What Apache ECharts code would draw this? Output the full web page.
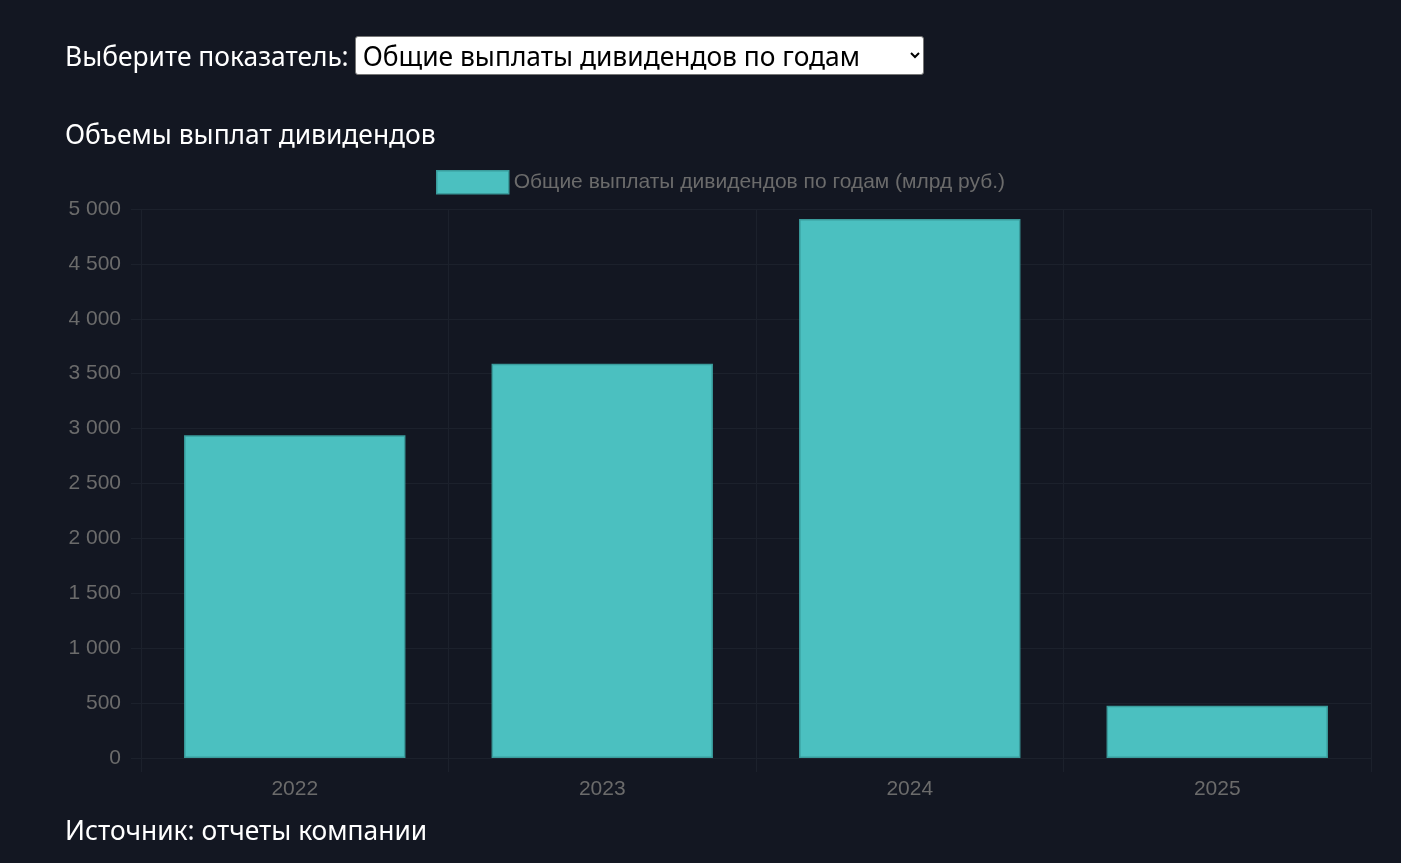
<!DOCTYPE html>
<html>
<head>
<meta charset="utf-8">
<script src="https://cdn.jsdelivr.net/npm/echarts@6/dist/echarts.min.js"></script>
<style>
  html, body { margin: 0; padding: 0; background: #131722; width: 1401px; height: 863px; overflow: hidden; }
  body { position: relative; font-family: "Noto Sans", "Open Sans", sans-serif; color: #fff; }
  #chart { position: absolute; left: 0; top: 0; width: 1401px; height: 863px; }
  .txt { position: absolute; left: 65px; font-size: 26.4px; white-space: nowrap; }
  #pick { top: 36px; display: flex; align-items: center; }
  #pick select {
    margin-left: 6px; width: 569px; height: 39px; font-size: 26.4px; font-family: inherit;
    background: #fff; color: #000; border: 1px solid #767676; border-radius: 3px; padding: 0 3px;
  }
  #title { top: 116px; }
  #source { top: 812px; }
</style>
</head>
<body>
<div id="chart"></div>
<div class="txt" id="pick">Выберите показатель:<select><option>Общие выплаты дивидендов по годам</option></select></div>
<div class="txt" id="title">Объемы выплат дивидендов</div>
<div class="txt" id="source">Источник: отчеты компании</div>
<script>
// данные
const years = ['2022', '2023', '2024', '2025']
const payouts = [2940, 3590, 4910, 475] // млрд руб.
const seriesName = 'Общие выплаты дивидендов по годам (млрд руб.)'

const gridColor = '#1c212c'
const labelColor = '#6b6b6b'

const myChart = echarts.init(document.getElementById('chart'))
myChart.setOption({
  backgroundColor: 'transparent',
  animation: false,
  textStyle: { fontFamily: 'Liberation Sans, Arial, sans-serif' },
  legend: {
    left: 431,
    top: 165,
    itemWidth: 72,
    itemHeight: 23,
    itemGap: 10,
    icon: 'rect',
    itemStyle: { borderColor: '#3a9c9c', borderWidth: 1.5 },
    textStyle: { color: labelColor, fontSize: 21, padding: [0, 0, 0, 0] },
    data: [seriesName]
  },
  grid: { left: 141, right: 30, top: 209, bottom: 105, containLabel: false },
  xAxis: {
    type: 'category',
    data: years,
    axisLine: { show: true, lineStyle: { color: gridColor } },
    axisTick: { show: true, length: 14, lineStyle: { color: gridColor } },
    splitLine: { show: true, lineStyle: { color: gridColor } },
    axisLabel: { color: labelColor, fontSize: 21, margin: 21 }
  },
  yAxis: {
    type: 'value',
    min: 0,
    max: 5000,
    interval: 500,
    axisLine: { show: false },
    axisTick: { show: true, length: 10, lineStyle: { color: gridColor } },
    splitLine: { show: true, lineStyle: { color: gridColor } },
    axisLabel: {
      color: labelColor,
      fontSize: 21,
      margin: 20,
      formatter: function (v) {
        return String(v).replace(/\B(?=(\d{3})+(?!\d))/g, ' ')
      }
    }
  },
  series: [{
    name: seriesName,
    type: 'bar',
    data: payouts,
    barWidth: '72%',
    itemStyle: { color: '#4bc0c0', borderColor: '#3a9c9c', borderWidth: 1.5 }
  }]
})
</script>
</body>
</html>
